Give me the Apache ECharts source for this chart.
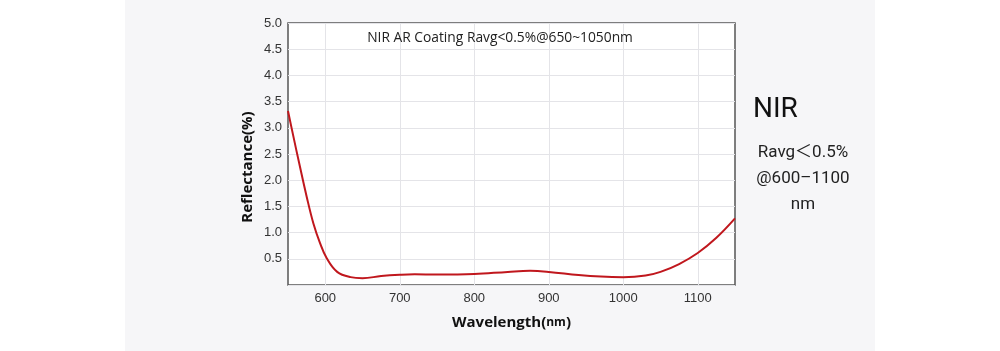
<!DOCTYPE html>
<html>
<head>
<meta charset="utf-8">
<script src="https://cdn.jsdelivr.net/npm/echarts@6/dist/echarts.min.js"></script>
<style>
  html, body { margin: 0; padding: 0; background: #fff; }
  #chart {
    width: 1000px;
    height: 351px;
    background: linear-gradient(to right, #fff 125px, #f6f6f8 125px, #f6f6f8 875px, #fff 875px);
  }
</style>
</head>
<body>
<div id="chart"></div>
<script>
// wavelength (nm) and reflectance (%)
const wavelengths = [550, 557, 566, 575, 584, 593, 602, 616, 634, 650, 675, 700, 720, 750, 800, 845, 875, 900, 940, 970, 1000, 1030, 1050, 1075, 1100, 1125, 1150];
const reflectance = [3.32, 2.85, 2.26, 1.69, 1.18, 0.80, 0.51, 0.25, 0.15, 0.13, 0.17, 0.195, 0.205, 0.20, 0.21, 0.25, 0.27, 0.25, 0.19, 0.16, 0.15, 0.18, 0.25, 0.40, 0.61, 0.90, 1.27];
const xTicks = [600, 700, 800, 900, 1000, 1100];
const chartTitle = "NIR AR Coating Ravg<0.5%@650~1050nm";
const sideLines = ["Ravg\uFF1C0.5%", "@600\u20131100", "nm"];

var chart = echarts.init(document.getElementById("chart"));

var seriesData = wavelengths.map((w, i) => [w, reflectance[i]]);

var option = {
  animation: false,
  title: {
    text: chartTitle,
    left: 495,
    top: 26,
    textAlign: "center",
    textStyle: {
      fontFamily: "Open Sans",
      fontSize: 13.8,
      fontWeight: "normal",
      color: "#222"
    }
  },
  grid: {
    left: 288,
    right: 265,
    top: 23,
    bottom: 66,
    show: true,
    backgroundColor: "#fff",
    borderColor: "#555",
    borderWidth: 1.5
  },
  xAxis: {
    type: "value",
    min: 550,
    max: 1150,
    name: "{a|Wavelength(}{b|nm}{a|)}",
    nameLocation: "middle",
    nameGap: 30,
    nameTextStyle: {
      rich: {
        a: { fontFamily: "Open Sans", fontSize: 15, fontWeight: "bold", color: "#111" },
        b: { fontFamily: "Open Sans", fontSize: 12, fontWeight: "bold", color: "#111" }
      }
    },
    axisLine: { show: false },
    axisTick: { show: false, customValues: xTicks },
    axisLabel: {
      customValues: xTicks,
      margin: 7,
      fontFamily: "Liberation Sans",
      fontSize: 13,
      color: "#333",
      formatter: v => String(v)
    },
    splitLine: { show: true, lineStyle: { color: "#e4e4e8", width: 1 } }
  },
  yAxis: {
    type: "value",
    min: 0,
    max: 5,
    interval: 0.5,
    axisLine: { show: false },
    axisTick: { show: false },
    axisLabel: {
      margin: 6,
      fontFamily: "Liberation Sans",
      fontSize: 13,
      color: "#333",
      formatter: v => (v === 0 ? "" : v.toFixed(1))
    },
    splitLine: { show: true, lineStyle: { color: "#e4e4e8", width: 1 } }
  },
  graphic: [
    {
      type: "text",
      x: 248,
      y: 167,
      rotation: Math.PI / 2,
      style: {
        text: "Reflectance(%)",
        font: "bold 15px 'Open Sans'",
        fill: "#111",
        align: "center",
        verticalAlign: "middle"
      }
    },
    {
      type: "text",
      x: 753,
      y: 110,
      style: {
        text: "NIR",
        font: "28px Roboto",
        fill: "#111",
        align: "left",
        verticalAlign: "middle"
      }
    },
    ...sideLines.map((t, i) => ({
      type: "text",
      x: 803,
      y: 153 + i * 26,
      style: {
        text: t,
        font: "17px Roboto, 'Noto Sans CJK SC'",
        fill: "#222",
        align: "center",
        verticalAlign: "middle"
      }
    }))
  ],
  series: [
    {
      type: "line",
      data: seriesData,
      smooth: 0.4,
      showSymbol: false,
      lineStyle: { color: "#c0171d", width: 2 }
    }
  ]
};

chart.setOption(option);
</script>
</body>
</html>
